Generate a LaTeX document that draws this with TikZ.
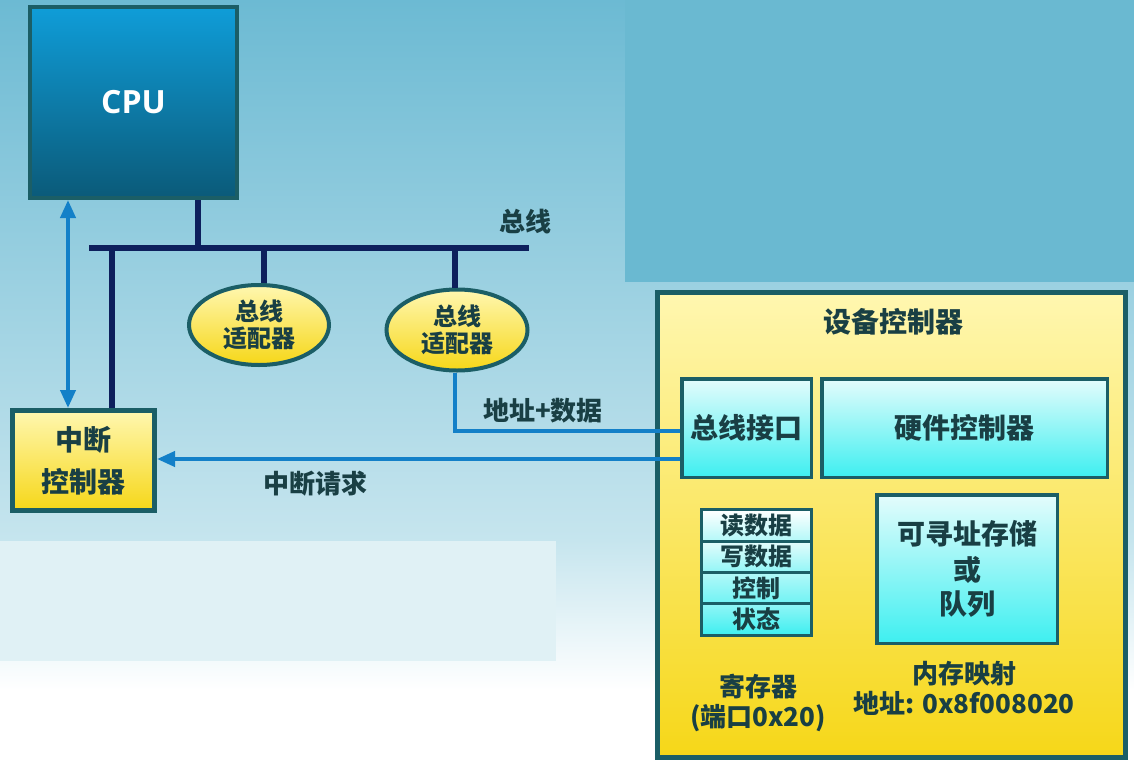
\documentclass[tikz,border=0pt]{standalone}
\usepackage{fontspec}
\usetikzlibrary{shapes.geometric,arrows.meta}
\newfontfamily\cjk{Noto Sans CJK SC}
\newfontfamily\cpufont{Open Sans}
\definecolor{bgtop}{HTML}{6CBAD3}
\definecolor{bgmid}{HTML}{C6E5EE}
\definecolor{panel}{HTML}{6AB9D1}
\definecolor{pale}{HTML}{E0F1F5}
\definecolor{edge}{HTML}{1B5E66}
\definecolor{busc}{HTML}{0D1F5C}
\definecolor{linkc}{HTML}{1380C8}
\definecolor{txt}{HTML}{193F44}
\definecolor{yelT}{HTML}{FFF7B0}
\definecolor{yelB}{HTML}{F6D718}
\definecolor{cyT}{HTML}{E4FCFC}
\definecolor{cyB}{HTML}{3EEFF0}
\definecolor{cpuT}{HTML}{0F9DD8}
\definecolor{cpuB}{HTML}{0B5A79}
\tikzset{
  zh/.style={font=\cjk\bfseries\fontsize{#1}{#1}\selectfont, text=txt, align=center, inner sep=0pt},
  yelbox/.style={rectangle, draw=edge, line width=5pt, top color=yelT, bottom color=yelB, inner sep=0pt},
  yelell/.style={ellipse, draw=edge, line width=4pt, top color=yelT, bottom color=yelB, inner sep=0pt},
  cybox/.style={rectangle, draw=edge, line width=3.5pt, top color=cyT, bottom color=cyB, inner sep=0pt},
  regrow/.style={rectangle, draw=edge, line width=3pt, inner sep=0pt, minimum width=110pt, minimum height=31.25pt},
  busline/.style={draw=busc, line width=6pt},
  link/.style={draw=linkc, line width=4pt},
  tip/.style={-{Triangle[length=18pt,width=15pt]}},
}
\begin{document}
\begin{tikzpicture}[x=1pt,y=-1pt]
\useasboundingbox (0,0) rectangle (1134,768);
% background
\fill[white] (0,0) rectangle (1134,768);
\shade[top color=bgtop, bottom color=bgmid] (0,0) rectangle (1134,541);
\shade[top color=bgmid, bottom color=white] (0,540) rectangle (1134,690);
\fill[panel] (625,0) rectangle (1134,282);
\fill[pale] (0,541) rectangle (556,661);

% nodes
\node[rectangle, draw=edge, line width=4pt, top color=cpuT, bottom color=cpuB,
      minimum width=207pt, minimum height=191pt, inner sep=0pt,
      font=\cpufont\bfseries\fontsize{32}{32}\selectfont, text=white] (cpu) at (133.5,102.5) {CPU};
\node[yelbox, minimum width=142pt, minimum height=100pt, zh=28] (ic) at (83.5,460.5) {中断\\[14pt]控制器};
\node[yelell, minimum width=140pt, minimum height=80pt, zh=24] (ad1) at (259,325) {总线\\[3pt]适配器};
\node[yelell, minimum width=141pt, minimum height=81pt, zh=24] (ad2) at (457,330) {总线\\[3pt]适配器};

\node[yelbox, minimum width=468pt, minimum height=465pt] (dc) at (891.5,525) {};
\node[zh=28] (dct) at (893,322) {设备控制器};
\node[cybox, minimum width=129.5pt, minimum height=98.5pt, zh=28] (bi) at (746.5,428) {总线接口};
\node[cybox, minimum width=285.5pt, minimum height=98.5pt, zh=28] (hc) at (964.5,428) {硬件控制器};
\node[cybox, minimum width=180.5pt, minimum height=148.5pt, zh=28] (st) at (967,569) {可寻址存储\\[8pt]或\\[6pt]队列};

\node[regrow, top color=white, bottom color=cyT!70!cyB, zh=24] (r1) at (756.5,525.6) {读数据};
\node[regrow, top color=cyT, bottom color=cyT!50!cyB, zh=24] (r2) at (756.5,556.9) {写数据};
\node[regrow, top color=cyT!70!cyB, bottom color=cyT!30!cyB, zh=24] (r3) at (756.5,588.1) {控制};
\node[regrow, top color=cyT!50!cyB, bottom color=cyB, zh=24] (r4) at (756.5,619.4) {状态};

\node[zh=26] (regl) at (758,703) {寄存器\\[4pt](端口0x20)};
\node[zh=26] (mml) at (964,688) {内存映射\\[4pt]地址: 0x8f008020};

% bus
\coordinate (busL) at (89,248);
\coordinate (busR) at (529,248);
\coordinate (b1) at (198,248);
\coordinate (b2) at (112,248);
\coordinate (b3) at (264,248);
\coordinate (b4) at (455,248);
\draw[busline] (busL) -- (busR);
\draw[busline] (b1) -- (b1 |- cpu.south);
\draw[busline] (b2) -- (b2 |- ic.north);
\draw[busline] (b3) -- (b3 |- ad1.north);
\draw[busline] (b4) -- (b4 |- ad2.north);
\node[zh=26, anchor=east] (busT) at (552,222) {总线};

% links
\coordinate (ax) at (68,0);
\draw[link, {Triangle[length=18pt,width=15pt]}-{Triangle[length=18pt,width=15pt]}]
  (ax |- cpu.south) -- (ax |- ic.north);
\coordinate (adc) at (455,431);
\draw[link] (adc |- ad2.south) -- (adc) -- (adc -| bi.west);
\node[zh=26, anchor=south] (adl) at (543,423) {地址+数据};
\coordinate (irq) at (683,459);
\draw[link, tip] (irq -| bi.west) -- (irq -| ic.east);
\node[zh=26] (irql) at (315,484) {中断请求};
\end{tikzpicture}
\end{document}
